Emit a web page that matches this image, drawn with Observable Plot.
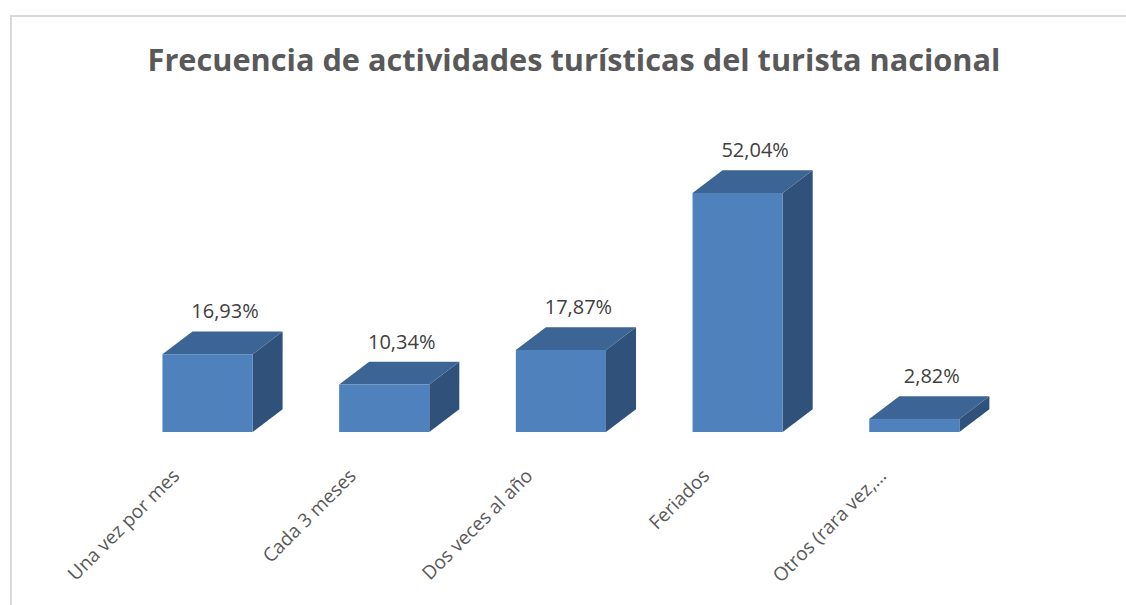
<!DOCTYPE html>
<html>
<head>
<meta charset="utf-8">
<script src="https://cdn.jsdelivr.net/npm/d3@7"></script>
<script src="https://cdn.jsdelivr.net/npm/@observablehq/plot@0.6"></script>
<style>
  html, body { margin: 0; padding: 0; background: #fff; overflow: hidden; width: 1126px; height: 605px; }
  #frame { position: absolute; left: 10px; top: 15px; width: 1200px; height: 700px;
           border-top: 2px solid #d9d9d9; border-left: 2px solid #d9d9d9; z-index: 3; pointer-events: none; }
  #title { position: absolute; left: 0; top: 39px; width: 1148px; text-align: center;
           font-family: "Open Sans", sans-serif; font-weight: 700; font-size: 30.7px; line-height: 40px;
           color: #595959; white-space: nowrap; }
  #chart { position: absolute; left: 0; top: 100px; }
  #chart svg { background: transparent; }
</style>
</head>
<body>
<div id="frame"></div>
<div id="title">Frecuencia de actividades turísticas del turista nacional</div>
<div id="chart"></div>
<script>
const categories = ["Una vez por mes", "Cada 3 meses", "Dos veces al año", "Feriados", "Otros (rara vez,…"];
const values = [16.93, 10.34, 17.87, 52.04, 2.82];

const fmt = v => v.toFixed(2).replace(".", ",") + "%";

// 3D box geometry (in data units)
const hw = 0.255;   // half width of bar front
const ddx = 0.17;   // depth offset along x
const ddy = 4.94;   // depth offset along y

const frontFaces = categories.map((c, i) => ({i, x1: i - hw, x2: i + hw, y: values[i]}));
const sideFaces = categories.flatMap((c, i) => [
  {z: i, x: i + hw, y1: 0, y2: values[i]},
  {z: i, x: i + hw + ddx, y1: ddy, y2: values[i] + ddy}
]);
const topFaces = categories.flatMap((c, i) => [
  {z: i, y: values[i], x1: i - hw, x2: i + hw},
  {z: i, y: values[i] + ddy, x1: i - hw + ddx, x2: i + hw + ddx}
]);
const labelRows = categories.map((c, i) => ({i, c, v: values[i]}));

const chart = Plot.plot({
  width: 1126,
  height: 505,
  marginLeft: 119.15,
  marginRight: 123.35,
  marginTop: 56.4,
  marginBottom: 173,
  x: {type: "linear", domain: [-0.5, 4.5], axis: null},
  y: {domain: [0, 60], axis: null},
  style: {background: "transparent", fontFamily: "Open Sans, sans-serif"},
  marks: [
    Plot.areaY(sideFaces, {x: "x", y1: "y1", y2: "y2", z: "z", fill: "#30527a"}),
    Plot.areaX(topFaces, {y: "y", x1: "x1", x2: "x2", z: "z", fill: "#3c6494"}),
    Plot.rectY(frontFaces, {x1: "x1", x2: "x2", y1: 0, y2: "y", fill: "#4f81bd"}),
    Plot.text(labelRows, {x: d => d.i + ddx / 2, y: d => d.v + ddy, text: d => fmt(d.v),
      dx: 2, dy: -20, fontSize: 20, fill: "#404040", textAnchor: "middle", lineAnchor: "middle"}),
    Plot.text(labelRows, {x: "i", y: 0, text: "c", rotate: -45, textAnchor: "end", lineAnchor: "top",
      dx: -37, dy: 35, fontSize: 19, fill: "#595959"})
  ]
});
document.getElementById("chart").appendChild(chart);
</script>
</body>
</html>
